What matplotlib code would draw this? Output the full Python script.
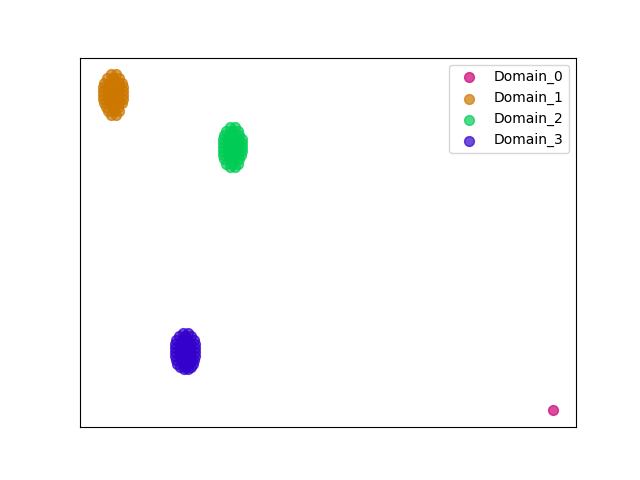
import numpy as np
import matplotlib.pyplot as plt

labels = ['Domain_0', 'Domain_1', 'Domain_2', 'Domain_3']
colors = ['#cc0077', '#cc7700', '#00cc55', '#3300cc']

# embedding points, listed row by row: (y, [x values])
d0_rows = [(77, [550])]

d1_rows = [(405, [111, 116]),
           (401, [107, 113, 119]),
           (397, [104, 109, 114, 119, 122]),
           (393, [103, 108, 113, 118, 123]),
           (389, [103, 108, 113, 118, 123]),
           (385, [103, 108, 113, 118, 123]),
           (381, [103, 108, 113, 118, 123]),
           (377, [104, 109, 114, 119, 122]),
           (373, [106, 112, 118]),
           (369, [108, 114, 119]),
           (365, [111, 116])]

d2_rows = [(354, [229, 234]),
           (350, [225, 231, 237]),
           (346, [223, 228, 233, 238]),
           (342, [222, 227, 232, 237, 241]),
           (338, [222, 227, 232, 237, 241]),
           (334, [222, 227, 232, 237, 241]),
           (330, [222, 227, 232, 237, 241]),
           (326, [222, 227, 232, 237, 240]),
           (322, [223, 228, 233, 238]),
           (318, [225, 231, 237]),
           (315, [229, 234])]

d3_rows = [(153, [183, 188]),
           (150, [179, 185, 191]),
           (146, [176, 182, 188, 194]),
           (142, [175, 180, 185, 190, 195]),
           (138, [175, 180, 185, 190, 195]),
           (134, [175, 180, 185, 190, 195]),
           (130, [175, 180, 185, 190, 195]),
           (126, [176, 181, 186, 191, 194]),
           (122, [177, 183, 189, 193]),
           (119, [180, 186, 191]),
           (117, [184, 188])]

domains = [d0_rows, d1_rows, d2_rows, d3_rows]

fig, ax = plt.subplots(figsize=(6.4, 4.8), dpi=100)
for rows, c, lab in zip(domains, colors, labels):
    x = [xv for y, xr in rows for xv in xr]
    y = [y for y, xr in rows for xv in xr]
    ax.scatter(x, y, s=50, c=c, alpha=0.7, label=lab)

ax.set_xticks([])
ax.set_yticks([])
ax.legend(loc='upper right')

plt.savefig('out.png')
